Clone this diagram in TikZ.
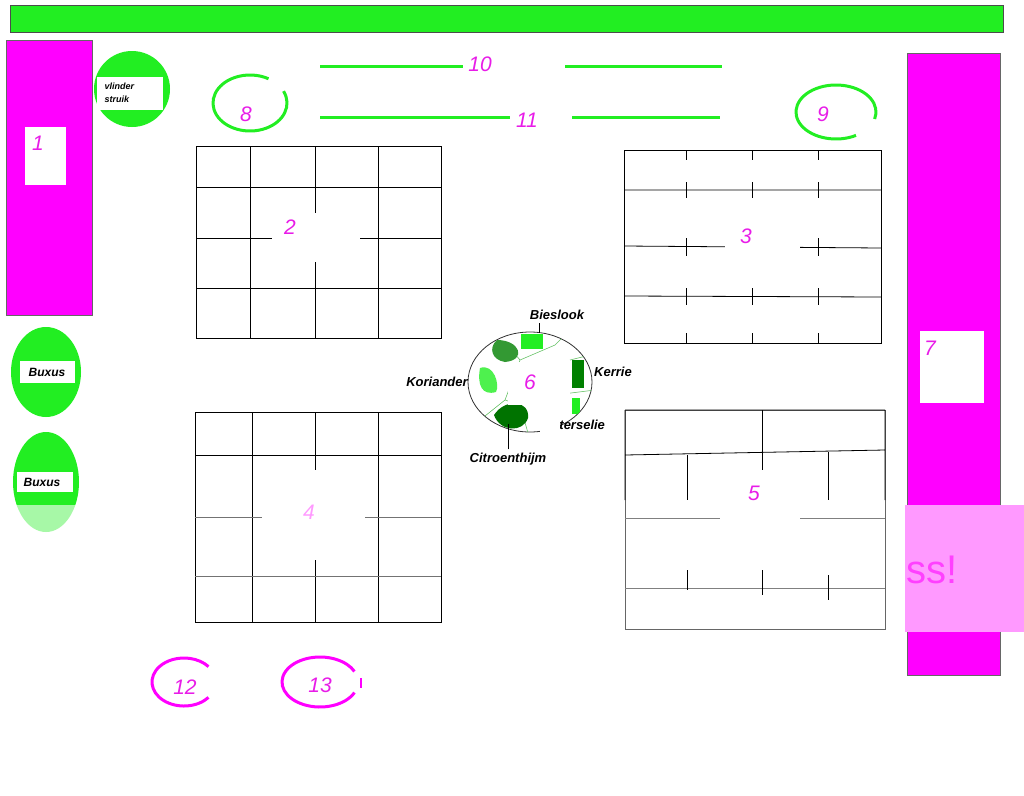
\documentclass[tikz,border=0pt]{standalone}
\usepackage{fontspec}
\setsansfont{Liberation Sans}
\begin{document}
\begin{tikzpicture}[x=1pt,y=-1pt,
  num/.style={text=mg,font=\sffamily\itshape\fontsize{21}{21}\selectfont},
  lab/.style={font=\sffamily\itshape\bfseries\fontsize{13}{13}\selectfont},
  grid/.style={black,line width=0.8pt}]
\definecolor{gr}{HTML}{22EE22}
\definecolor{mg}{HTML}{E81CE8}
\definecolor{mgf}{HTML}{FF00FF}
\useasboundingbox (0,0) rectangle (1024,795);
\fill[white] (0,0) rectangle (1024,795);
% top bar
\draw[fill=gr,draw=black!70,line width=0.6pt] (10,5) rectangle (1003,32);
% rect 1
\draw[fill=mgf,draw=black!60] (6,40) rectangle (92,315);
\fill[white] (25,127) rectangle (66,185);
\node[num] (n1) at (38,143) {1};
% vlinder struik
\fill[gr] (132,89) circle (38);
\fill[white] (97,77) rectangle (163,110);
\node[lab,font=\sffamily\itshape\bfseries\fontsize{9}{13}\selectfont,align=left,anchor=west] (vs) at (101,93) {vlinder\\struik};
% 8
\draw[draw=gr,line width=3pt] ([shift={(-25:37 and 28)}]250,103) arc[start angle=-25,end angle=300,x radius=37,y radius=28];
\node[num] (n8) at (246,114) {8};
% 10, 11
\draw[gr,line width=3pt] (320,66) -- (463,66) (565,66) -- (722,66);
\node[num] (n10) at (480,64) {10};
\draw[gr,line width=3pt] (320,117) -- (510,117) (572,117) -- (720,117);
\node[num] (n11) at (527,120) {11};
% 9
\draw[draw=gr,line width=3pt] ([shift={(60:40 and 27)}]836,112) arc[start angle=60,end angle=375,x radius=40,y radius=27];
\node[num] (n9) at (823,114) {9};
% grid 2
\draw[grid] (196,146) rectangle (441,338);
\draw[grid] (250,146)--(250,338) (315,146)--(315,338) (378,146)--(378,338)
  (196,187)--(441,187) (196,238)--(441,238) (196,288)--(441,288);
\fill[white] (272,213) rectangle (360,262);
\node[num] (n2) at (290,227) {2};
% grid 3
\draw[grid] (624,150) rectangle (881,343);
\draw[grid] (624,190)--(881,190) (624,246)--(881,248) (624,296)--(881,297);
\foreach \xx in {686,752,818}{
  \draw[grid] (\xx,150)--(\xx,160) (\xx,182)--(\xx,198) (\xx,238)--(\xx,256) (\xx,288)--(\xx,305) (\xx,333)--(\xx,343);}
\fill[white] (725,220) rectangle (800,258);
\node[num] (n3) at (746,236) {3};
% grid 4
\draw[grid] (195,412) rectangle (441,622);
\draw[grid] (252,412)--(252,622) (315,412)--(315,622) (378,412)--(378,622)
  (195,455)--(441,455);
\draw[black!55,line width=0.8pt] (195,517)--(441,517) (195,576)--(441,576);
\fill[white] (262,468) rectangle (365,560);
\draw[grid] (315,412)--(315,470);
\node[num,text=mgf!40] (n4) at (309,512) {4};
% grid 5
\draw[black!60,line width=0.8pt] (625,410) rectangle (885,629);
\draw[grid] (625,410)--(625,500) (885,410)--(885,500) (625,410)--(885,410) (625,455)--(885,450);
\draw[black!50,line width=0.8pt] (625,518)--(885,518) (625,588)--(885,588);
\draw[grid] (687,455)--(687,500) (762,410)--(762,470) (828,452)--(828,500)
  (687,570)--(687,590) (762,570)--(762,595) (828,575)--(828,600);
\fill[white] (720,475) rectangle (800,520);
\node[num] (n5) at (754,493) {5};
% center herb circle
\draw[black!80,line width=0.8pt] (530,382) ellipse[x radius=62,y radius=50];
\begin{scope}
\clip (530,382) ellipse[x radius=62,y radius=50];
\draw[green!60!black!60,line width=0.6pt] (505,342)--(520,360)--(505,400)--(480,420) (520,360)--(555,345)--(570,330)
 (505,400)--(520,405)--(530,440) (570,360)--(590,355) (555,395)--(595,390);
\fill[green!50!black!80] (497,340) .. controls (520,340) and (527,360) .. (505,362) .. controls (492,360) and (488,348) .. (497,340);
\fill[gr] (521,334) rectangle (543,349);
\fill[gr!80] (480,368) .. controls (494,363) and (500,385) .. (496,392) .. controls (482,396) and (477,385) .. (480,368);
\fill[green!45!black] (494,415) .. controls (505,398) and (530,400) .. (528,418) .. controls (523,433) and (500,432) .. (494,415);
\fill[green!50!black] (572,360) rectangle (584,388);
\fill[gr] (572,398) rectangle (580,414);
\fill[white] (508,362) rectangle (570,405);
\end{scope}
\node[num] (n6) at (530,382) {6};
\node[lab] (bies) at (557,315) {Bieslook};
\node[lab] (kor) at (437,382) {Koriander};
\node[lab] (ker) at (613,372) {Kerrie};
\node[lab,anchor=west] (pet) at (540,425) {Peterselie};
\fill[white] (540,416) rectangle (560,434);
\node[lab] (cit) at (508,459) {Citroenthijm};
\draw[black] (bies.south) ++(-18,0) -- ++(0,10);
\draw[black] (cit.north) -- ++(0,-25);
% rect 7
\draw[fill=mgf,draw=black!60] (907,53) rectangle (1000,675);
\fill[white] (920,331) rectangle (984,403);
\node[num] (n7) at (930,348) {7};
\fill[mgf!40] (905,505) rectangle (1024,632);
\node[text=mgf!75,font=\sffamily\fontsize{40}{40}\selectfont] (ss) at (932,570) {ss!};
% Buxus
\fill[gr] (46,372) ellipse[x radius=35,y radius=45];
\fill[white] (20,361) rectangle (75,383);
\node[lab,font=\sffamily\itshape\bfseries\fontsize{12}{12}\selectfont] (b1) at (47,372) {Buxus};
\begin{scope}
\clip (46,482) ellipse[x radius=33,y radius=50];
\fill[gr] (0,420) rectangle (100,505);
\fill[gr!40] (0,505) rectangle (100,540);
\end{scope}
\fill[white] (17,472) rectangle (73,492);
\node[lab,font=\sffamily\itshape\bfseries\fontsize{12}{12}\selectfont] (b2) at (42,482) {Buxus};
% 12, 13
\draw[mgf,line width=3pt] ([shift={(40:32 and 24)}]184,682) arc[start angle=40,end angle=320,x radius=32,y radius=24];
\node[num] (n12) at (185,687) {12};
\draw[mgf,line width=3pt] ([shift={(25:38 and 25)}]320,682) arc[start angle=25,end angle=335,x radius=38,y radius=25];
\draw[mgf,line width=1.5pt] (361,678)--(361,688);
\node[num] (n13) at (320,685) {13};
\end{tikzpicture}
\end{document}
